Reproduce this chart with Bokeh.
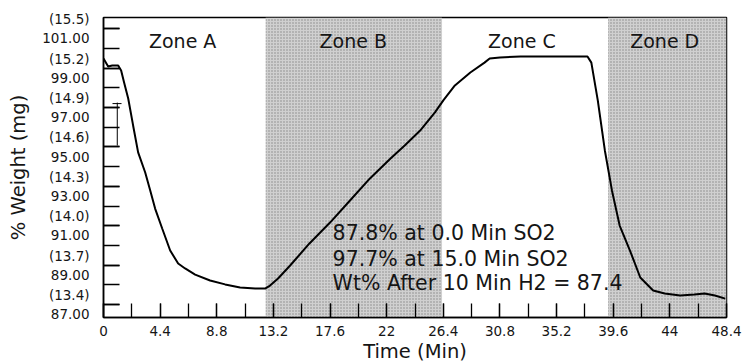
from bokeh.plotting import figure
from bokeh.models import FixedTicker, Range1d
from bokeh.core.properties import value
from bokeh.embed import file_html
from bokeh.resources import INLINE

# ---- data ----
time_min = [0.0, 0.36, 0.68, 1.14, 1.37, 1.6, 1.92, 2.3, 2.69, 3.24, 3.63, 4.01, 4.56,
            5.18, 5.8, 6.34, 7.12, 8.28, 9.45, 10.61, 11.78, 12.55, 12.94, 13.56, 14.5,
            16.0, 17.6, 19.15, 20.7, 22.3, 23.4, 24.6, 25.75, 26.4, 27.3, 28.5, 29.6,
            30.0, 30.8, 32.4, 33.9, 35.5, 37.0, 37.6, 37.9, 38.4, 38.95, 39.5, 40.1,
            40.9, 41.7, 42.7, 43.6, 44.8, 45.9, 46.7, 47.5, 48.3]
weight_pct = [99.49, 99.08, 99.13, 99.13, 98.88, 98.27, 97.46, 96.09, 94.72, 93.70, 92.79,
              91.87, 90.86, 89.74, 89.08, 88.83, 88.52, 88.22, 88.02, 87.86, 87.81, 87.81,
              87.96, 88.32, 88.98, 90.10, 91.16, 92.28, 93.40, 94.41, 95.07, 95.83, 96.75,
              97.36, 98.12, 98.78, 99.28, 99.49, 99.54, 99.59, 99.59, 99.59, 99.59, 99.59,
              99.28, 97.36, 94.82, 92.79, 91.01, 89.74, 88.37, 87.71, 87.56, 87.46, 87.51,
              87.56, 87.46, 87.30]

shade_start = [12.6, 39.2]
shade_end = [26.3, 48.4]

zone_names = ["Zone A", "Zone B", "Zone C", "Zone D"]
zone_x = [6.15, 19.4, 32.5, 43.6]
zone_y = [100.4, 100.4, 100.4, 100.4]

note_lines = ["87.8% at 0.0 Min SO2", "97.7% at 15.0 Min SO2", "Wt% After 10 Min H2 =  87.4"]
note_x = [17.8, 17.8, 17.8]
note_y = [90.65, 89.33, 88.07]

x_ticks = [0, 4.4, 8.8, 13.2, 17.6, 22, 26.4, 30.8, 35.2, 39.6, 44, 48.4]
x_tick_labels = ["0", "4.4", "8.8", "13.2", "17.6", "22", "26.4", "30.8", "35.2", "39.6", "44", "48.4"]
x_minor = [round(2.2 * i, 1) for i in range(23)]

y_ticks = [87, 89, 91, 93, 95, 97, 99, 101]
y_mg = ["(13.4)", "(13.7)", "(14.0)", "(14.3)", "(14.6)", "(14.9)", "(15.2)", "(15.5)"]
y_minor = list(range(87, 102))

Y_LO, Y_HI = 86.34, 101.57
FONT = "DejaVu Sans"

p = figure(frame_width=623, frame_height=300, output_backend="svg", toolbar_location=None,
           x_range=Range1d(0, 48.4), y_range=Range1d(Y_LO, Y_HI),
           min_border_left=103, min_border_right=20, min_border_top=17, min_border_bottom=44)
p.background_fill_color = "white"
p.border_fill_color = "white"
p.xgrid.visible = False
p.ygrid.visible = False
p.outline_line_color = "black"
p.outline_line_width = 1.5

# shaded zones
p.quad(left=shade_start, right=shade_end, bottom=[Y_LO] * 2, top=[Y_HI] * 2,
       fill_color="#d0d0d0", line_color=None, hatch_pattern=".", hatch_color="#777777",
       hatch_scale=3, hatch_weight=1, hatch_alpha=0.8)

# curve
p.line(time_min, weight_pct, line_color="black", line_width=2)

# scan mark near left axis
p.segment(x0=[1.07, 0.7], y0=[95.07, 97.2], x1=[1.07, 1.4], y1=[97.25, 97.2],
          line_color="black", line_width=1)

# texts
p.text(zone_x, zone_y, text=zone_names, text_font=value(FONT), text_font_size="19px",
       text_align="center", text_baseline="middle", text_color="#151515")
p.text(note_x, note_y, text=note_lines, text_font=value(FONT), text_font_size="20.5px",
       text_align="left", text_baseline="middle", text_color="#151515")

# axes
for ax in (p.xaxis[0], p.yaxis[0]):
    ax.axis_line_color = "black"
    ax.axis_line_width = 1.5
    ax.major_tick_line_color = "black"
    ax.minor_tick_line_color = "black"
    ax.major_tick_line_width = 1.3
    ax.minor_tick_line_width = 1.3
    ax.major_tick_out = 0
    ax.minor_tick_out = 0
    ax.major_label_text_font = FONT
    ax.major_label_text_font_size = "13.5px"
    ax.major_label_text_color = "#151515"
    ax.axis_label_text_font = FONT
    ax.axis_label_text_font_style = "normal"
    ax.axis_label_text_font_size = "19.5px"
    ax.axis_label_text_color = "#151515"

xa = p.xaxis[0]
xa.ticker = FixedTicker(ticks=x_ticks, minor_ticks=x_minor)
xa.major_label_overrides = {t: l for t, l in zip(x_ticks, x_tick_labels)}
xa.major_tick_in = 14
xa.minor_tick_in = 14
xa.major_label_standoff = 8
xa.axis_label = "Time (Min)"
xa.axis_label_standoff = 1

ya = p.yaxis[0]
ya.ticker = FixedTicker(ticks=y_ticks, minor_ticks=y_minor)
ya.major_label_overrides = {t: f"{m}\n{t:.2f}" for t, m in zip(y_ticks, y_mg)}
ya.major_tick_in = 16
ya.minor_tick_in = 16
ya.major_label_standoff = 14
ya.axis_label = "% Weight (mg)"
ya.axis_label_standoff = 9

open("out.html", "w").write(file_html(p, INLINE))
